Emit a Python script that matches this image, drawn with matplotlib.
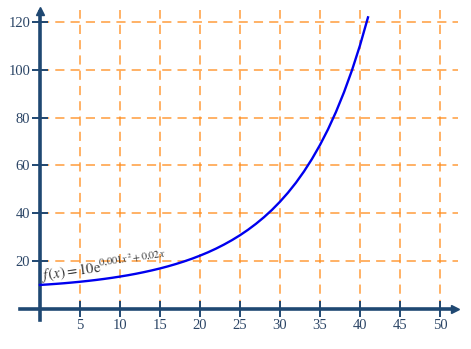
import matplotlib
matplotlib.use("Agg")
import matplotlib.pyplot as plt

# f(x) = 10 e^(0.001 x^2 + 0.02 x), values read at integer x
x_vals = list(range(0, 42))
y_vals = [10.0, 10.21, 10.45, 10.71, 11.01, 11.33, 11.69, 12.08, 12.51, 12.98,
          13.50, 14.06, 14.68, 15.36, 16.10, 16.90, 17.79, 18.76, 19.82, 20.98,
          22.26, 23.65, 25.19, 26.89, 28.75, 30.80, 33.07, 35.58, 38.34, 41.41,
          44.82, 48.60, 52.80, 57.49, 62.72, 68.56, 75.08, 82.40, 90.61, 99.84,
          110.23, 121.94]
x_ticks = [5, 10, 15, 20, 25, 30, 35, 40, 45, 50]
y_ticks = [20, 40, 60, 80, 100, 120]
label = r"$f\,(x) = 10\mathrm{e}^{0{,}001x^2+0{,}02x}$"

AXIS = "#1f4872"
TXT = "#2b4566"
GRID = "#ff8c1a"

plt.rcParams["font.family"] = ["Liberation Serif", "DejaVu Serif"]
plt.rcParams["mathtext.fontset"] = "stix"

fig = plt.figure(figsize=(4.71, 3.49), dpi=100)
ax = fig.add_axes([0, 0, 1, 1])
ax.set_xlim(-5.0, 53.875)
ax.set_ylim(-16.8, 129.2)
ax.patch.set_visible(False)

# grid
ax.vlines(x_ticks, 0, 125, colors=GRID, linestyles=(0, (6, 4)), lw=1.1,
          alpha=0.85, zorder=1)
ax.hlines(y_ticks, 0, 52.2, colors=GRID, linestyles=(0, (6, 4)), lw=1.1,
          alpha=0.85, zorder=1)

# axes through the origin
for s in ["top", "right"]:
    ax.spines[s].set_visible(False)
ax.spines["left"].set_position(("data", 0))
ax.spines["bottom"].set_position(("data", 0))
ax.spines["left"].set_bounds(-4.7, 124)
ax.spines["bottom"].set_bounds(-2.5, 51.6)
for s in ["left", "bottom"]:
    ax.spines[s].set_color(AXIS)
    ax.spines[s].set_linewidth(2.6)
    ax.spines[s].set_zorder(3)
ax.plot(51.9, 0, marker=">", color=AXIS, ms=6, clip_on=False, zorder=4)
ax.plot(0, 124.5, marker="^", color=AXIS, ms=6, clip_on=False, zorder=4)

ax.set_xticks(x_ticks)
ax.set_yticks(y_ticks)
ax.tick_params(axis="x", direction="inout", length=11, width=1.4,
               color=AXIS, labelcolor=TXT, labelsize=10.5, pad=2)
ax.tick_params(axis="y", direction="inout", length=12, width=1.4,
               color=AXIS, labelcolor=TXT, labelsize=10.5, pad=1)

ax.plot(x_vals, y_vals, color="#0000ee", lw=1.7, zorder=5)
ax.text(0.2, 9.4, label, rotation=8, fontsize=10.5, color="#333333",
        ha="left", va="bottom", rotation_mode="anchor", zorder=6)

fig.savefig("out.png", dpi=100)
